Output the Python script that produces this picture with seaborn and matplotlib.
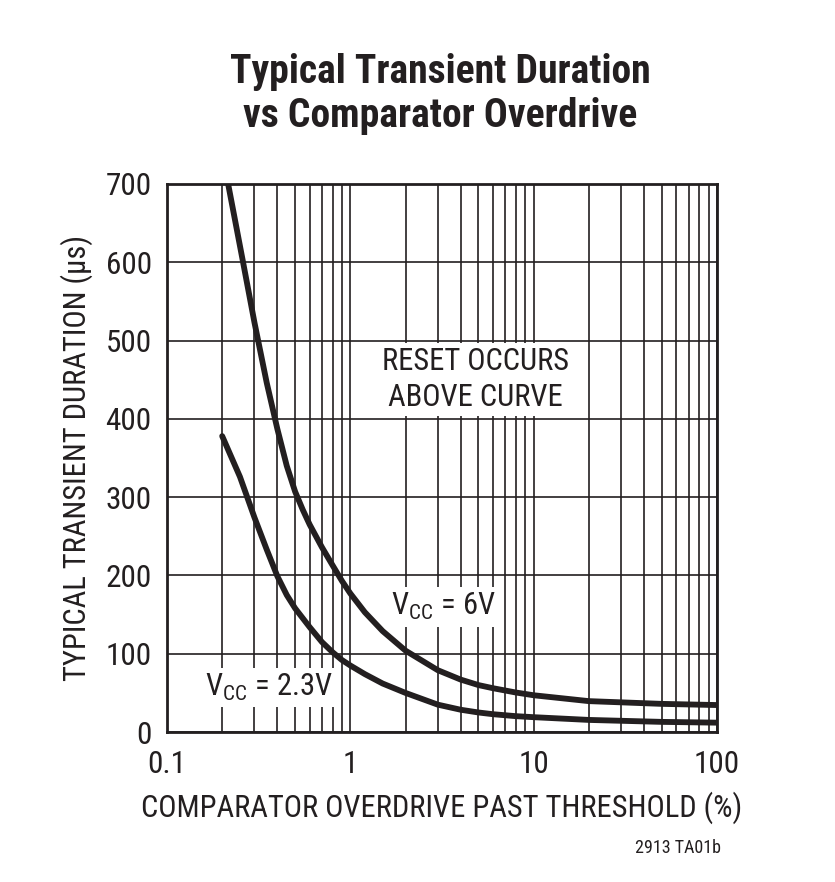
import numpy as np
import pandas as pd
import matplotlib
matplotlib.use("Agg")
import matplotlib.pyplot as plt
import matplotlib.ticker as mticker
import seaborn as sns

# --- data ---
x_6v = [0.2, 0.22, 0.26, 0.3, 0.35, 0.4, 0.45, 0.5, 0.55, 0.6, 0.7, 0.8, 0.9,
        1.0, 1.2, 1.5, 2.0, 3.0, 4.0, 5.0, 6.0, 8.0, 10.0, 20.0, 50.0, 100.0]
y_6v = [740, 689, 600, 523, 446, 387, 340, 307, 284, 265, 236, 213, 193,
        177, 153, 129, 104, 79, 67, 60, 56, 50.5, 47, 39.5, 36, 34.5]

x_23v = [0.2, 0.25, 0.3, 0.35, 0.4, 0.45, 0.5, 0.6, 0.7, 0.8, 0.9,
         1.0, 1.2, 1.5, 2.0, 3.0, 4.0, 5.0, 6.0, 8.0, 10.0, 20.0, 50.0, 100.0]
y_23v = [378, 326, 274, 233, 199, 175, 158, 134, 115, 102, 92,
         85, 74, 62, 50, 35, 28.5, 25, 22.8, 20.3, 19, 15.5, 13, 12]

y_ticks = [0, 100, 200, 300, 400, 500, 600, 700]
x_ticks = [0.1, 1, 10, 100]
x_tick_labels = ["0.1", "1", "10", "100"]

title = "Typical Transient Duration\nvs Comparator Overdrive"
x_label = "COMPARATOR OVERDRIVE PAST THRESHOLD (%)"
y_label = "TYPICAL TRANSIENT DURATION (\u00b5s)"
note_reset = "RESET OCCURS\nABOVE CURVE"
label_6v = r"V$_{\mathregular{CC}}$ = 6V"
label_23v = r"V$_{\mathregular{CC}}$ = 2.3V"
footnote = "2913 TA01b"

df = pd.concat([
    pd.DataFrame({"x": x_6v, "y": y_6v, "s": "6V"}),
    pd.DataFrame({"x": x_23v, "y": y_23v, "s": "2.3V"}),
], ignore_index=True)

sns.set_style("white")
fam = ["Roboto Condensed", "Roboto", "DejaVu Sans"]
plt.rcParams["font.family"] = fam
plt.rcParams["mathtext.fontset"] = "custom"
plt.rcParams["mathtext.rm"] = "Roboto Condensed"

ink = "#231f20"

fig = plt.figure(figsize=(8.35, 8.82), dpi=100)
ax = fig.add_axes([0.2, 0.17, 0.6587, 0.6214])

sns.lineplot(data=df, x="x", y="y", hue="s", palette={"6V": ink, "2.3V": ink},
             linewidth=4.2, legend=False, ax=ax, sort=False, estimator=None, zorder=3)

ax.set_xscale("log")
ax.set_xlim(0.1, 100)
ax.set_ylim(0, 700)
ax.set_yticks(y_ticks)
ax.xaxis.set_major_locator(mticker.FixedLocator(x_ticks))
ax.xaxis.set_major_formatter(mticker.FixedFormatter(x_tick_labels))
ax.xaxis.set_minor_locator(mticker.LogLocator(base=10, subs=np.arange(2, 10)))
ax.xaxis.set_minor_formatter(mticker.NullFormatter())

ax.grid(True, which="both", axis="x", color=ink, linewidth=1.2)
ax.grid(True, which="major", axis="y", color=ink, linewidth=1.2)
ax.set_axisbelow(True)
for sp in ax.spines.values():
    sp.set_color(ink)
    sp.set_linewidth(2.0)
ax.tick_params(axis="both", which="both", length=0, labelsize=22.5, colors=ink)
ax.tick_params(axis="x", which="both", pad=13)
ax.tick_params(axis="y", which="both", pad=11)

ax.set_xlabel(x_label, fontsize=22, labelpad=9, color=ink)
ax.set_ylabel(y_label, fontsize=22, labelpad=9, color=ink)

fig.text(0.527, 0.893, title, ha="center", va="center", fontsize=28.5, fontweight="bold",
         linespacing=1.2, color=ink)

bbox = dict(facecolor="white", edgecolor="none", pad=3)
ax.text(4.83, 450, note_reset, ha="center", va="center", fontsize=22, linespacing=1.3,
        bbox=bbox, zorder=4, color=ink)
ax.text(3.2, 160, label_6v, ha="center", va="center", fontsize=22, bbox=bbox, zorder=4,
        color=ink)
ax.text(0.358, 57, label_23v, ha="center", va="center", fontsize=22, bbox=bbox, zorder=4,
        color=ink)

fig.text(0.812, 0.038, footnote, ha="center", va="center", fontsize=13, color=ink)

fig.savefig("out.png", dpi=100)
